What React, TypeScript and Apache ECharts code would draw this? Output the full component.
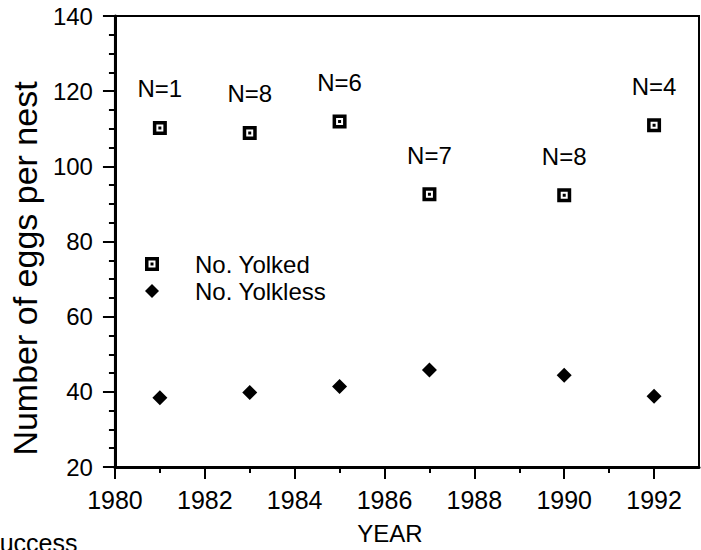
import React, { useEffect, useRef } from "react";
import * as echarts from "echarts";

const years = [1981, 1983, 1985, 1987, 1990, 1992];
const yolked = [110.2, 108.9, 111.9, 92.6, 92.3, 110.9];
const yolkless = [38.4, 39.8, 41.4, 45.8, 44.4, 38.8];
const nCounts = [1, 8, 6, 7, 8, 4];
const majorYears = [1980, 1982, 1984, 1986, 1988, 1990, 1992];
const minorYears = [1981, 1983, 1985, 1987, 1989, 1991];

const FONT = "'Liberation Sans', Arial, Helvetica, sans-serif";
const SQUARE = "path://M0,0H14V14H0Z M3.5,3.5V10.5H10.5V3.5Z M5.5,5.5H8.5V8.5H5.5Z";

export default function App() {
  const ref = useRef<HTMLDivElement>(null);
  useEffect(() => {
    if (!ref.current) return;
    const chart = echarts.init(ref.current, null, { renderer: "svg" });
    chart.setOption({
      animation: false,
      backgroundColor: "#fff",
      textStyle: { fontFamily: FONT, color: "#000" },
      grid: {
        left: 107,
        right: 2,
        top: 16,
        bottom: 79,
        show: true,
        borderColor: "#000",
        borderWidth: 2,
        backgroundColor: "transparent",
      },
      legend: {
        orient: "vertical",
        left: 140,
        top: 247,
        itemWidth: 14,
        itemHeight: 14,
        itemGap: 3,
        itemStyle: { opacity: 1 },
        textStyle: {
          fontFamily: FONT,
          fontSize: 24,
          lineHeight: 24,
          color: "#000",
          padding: [0, 0, 0, 31],
        },
        data: ["No. Yolked", "No. Yolkless"],
      },
      xAxis: [
        {
          type: "value",
          min: 1980,
          max: 1993,
          interval: 2,
          name: "YEAR",
          nameLocation: "middle",
          nameGap: 54,
          nameTextStyle: {
            fontFamily: FONT,
            fontSize: 24,
            color: "#000",
            padding: [0, 34, 0, 0],
          },
          axisLine: { show: true, onZero: false, lineStyle: { color: "#000", width: 3 } },
          axisTick: {
            show: true,
            customValues: majorYears,
            length: 12,
            lineStyle: { color: "#000", width: 2 },
          },
          axisLabel: {
            customValues: majorYears,
            formatter: (v: number) => String(v),
            fontFamily: FONT,
            fontSize: 25,
            color: "#000",
            margin: 20,
          },
          splitLine: { show: false },
        },
        {
          type: "value",
          min: 1980,
          max: 1993,
          position: "bottom",
          axisLine: { show: false },
          axisLabel: { show: false },
          axisTick: {
            show: true,
            customValues: minorYears,
            length: 6,
            lineStyle: { color: "#000", width: 2 },
          },
          splitLine: { show: false },
        },
      ],
      yAxis: {
        type: "value",
        min: 20,
        max: 140,
        interval: 20,
        name: "Number of eggs per nest",
        nameLocation: "middle",
        nameGap: 67,
        nameTextStyle: {
          fontFamily: FONT,
          fontSize: 34,
          color: "#000",
          padding: [0, 54, 0, 0],
        },
        axisLine: { show: true, lineStyle: { color: "#000", width: 3 } },
        axisTick: { show: true, length: 12, lineStyle: { color: "#000", width: 2 } },
        minorTick: { show: true, splitNumber: 4, length: 6, lineStyle: { color: "#000", width: 2 } },
        axisLabel: { fontFamily: FONT, fontSize: 24, color: "#000", margin: 22 },
        splitLine: { show: false },
        minorSplitLine: { show: false },
      },
      graphic: [
        {
          type: "text",
          left: -17,
          top: 530,
          style: { text: "Success", fontFamily: FONT, fontSize: 25, fill: "#000" },
        },
      ],
      series: [
        {
          name: "No. Yolked",
          type: "scatter",
          symbol: SQUARE,
          symbolSize: 14,
          itemStyle: { color: "#000", opacity: 1 },
          data: years.map((y, i) => [y, yolked[i]]),
          label: {
            show: true,
            position: "top",
            distance: 20,
            fontFamily: FONT,
            fontSize: 24,
            color: "#000",
            formatter: (p: any) => "N=" + nCounts[p.dataIndex],
          },
        },
        {
          name: "No. Yolkless",
          type: "scatter",
          symbol: "diamond",
          symbolSize: 15,
          itemStyle: { color: "#000", opacity: 1 },
          data: years.map((y, i) => [y, yolkless[i]]),
        },
      ],
    });
    return () => chart.dispose();
  }, []);
  return (
    <div
      ref={ref}
      style={{ position: "fixed", left: 0, top: 0, width: 701, height: 550, background: "#fff" }}
    />
  );
}
